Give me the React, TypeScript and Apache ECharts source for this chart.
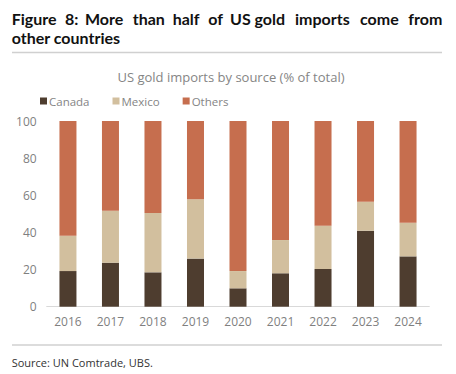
import React, { useEffect, useRef } from "react";
import * as echarts from "echarts";

const years = ["2016", "2017", "2018", "2019", "2020", "2021", "2022", "2023", "2024"];
const canada = [19.2, 23.7, 18.5, 25.9, 9.9, 18.0, 20.3, 40.9, 27.1];
const mexico = [19.0, 28.0, 32.0, 31.9, 9.3, 17.9, 23.3, 15.6, 18.1];
const others = [61.8, 48.3, 49.5, 42.2, 80.8, 64.1, 56.4, 43.5, 54.8];

const titleLine1 = ["Figure", "8:", "More", "than", "half", "of", "US gold", "imports", "come", "from"];
const titleLine1X = [11.7, 65, 85, 132.7, 172.7, 208.3, 230, 295, 360, 408.3];
const titleLine2 = "other countries";
const chartTitle = "US gold imports by source (% of total)";
const sourceText = "Source: UN Comtrade, UBS.";

const COLORS = { canada: "#4e3d2f", mexico: "#d2bf9e", others: "#c66e4e" };
const FONT = "'Open Sans', 'Noto Sans', sans-serif";

export default function App() {
  const ref = useRef<HTMLDivElement>(null);
  useEffect(() => {
    if (!ref.current) return;
    const chart = echarts.init(ref.current, null, { renderer: "svg" });
    const graphics: any[] = [];
    titleLine1.forEach((w, i) => {
      graphics.push({
        type: "text",
        x: titleLine1X[i],
        y: 18.5,
        style: {
          text: w,
          font: "bold 16px Lato, 'Open Sans', sans-serif",
          fill: "#111",
          textAlign: "left",
          textVerticalAlign: "middle",
        },
      });
    });
    graphics.push({
      type: "text",
      x: 11.7,
      y: 37.8,
      style: {
        text: titleLine2,
        font: "bold 16px Lato, 'Open Sans', sans-serif",
        fill: "#111",
        textAlign: "left",
        textVerticalAlign: "middle",
      },
    });
    graphics.push({
      type: "line",
      shape: { x1: 12, y1: 52.5, x2: 442, y2: 52.5 },
      style: { stroke: "#d0d0d0", lineWidth: 1.5 },
    });
    graphics.push({
      type: "line",
      shape: { x1: 12, y1: 345, x2: 442, y2: 345 },
      style: { stroke: "#d0d0d0", lineWidth: 1.5 },
    });
    graphics.push({
      type: "text",
      x: 11.7,
      y: 362,
      style: {
        text: sourceText,
        font: `11px ${FONT}`,
        fill: "#333",
        textAlign: "left",
        textVerticalAlign: "middle",
      },
    });

    chart.setOption({
      animation: false,
      backgroundColor: "#fff",
      title: {
        text: chartTitle,
        left: 226,
        top: 65,
        textAlign: "center",
        textStyle: { fontFamily: FONT, fontSize: 13, fontWeight: "normal", color: "#858585" },
      },
      legend: {
        left: 35,
        top: 90,
        icon: "rect",
        itemWidth: 7,
        itemHeight: 7,
        itemGap: 23,
        textStyle: { fontFamily: FONT, fontSize: 11.5, color: "#858585", padding: [0, 0, 0, -3] },
        data: ["Canada", "Mexico", "Others"],
      },
      grid: { left: 46.7, right: 26.7, top: 121, bottom: 67.3, containLabel: false },
      xAxis: {
        type: "category",
        data: years,
        axisLine: { lineStyle: { color: "#d9d9d9", width: 1 } },
        axisTick: { show: false },
        axisLabel: { fontFamily: FONT, fontSize: 12, color: "#7f7f7f", margin: 9 },
      },
      yAxis: {
        type: "value",
        min: 0,
        max: 100,
        interval: 20,
        axisLine: { show: false },
        axisTick: { show: false },
        splitLine: { show: false },
        axisLabel: { fontFamily: FONT, fontSize: 12, color: "#7f7f7f", margin: 10 },
      },
      series: [
        { name: "Canada", type: "bar", stack: "t", data: canada, barWidth: "40%", itemStyle: { color: COLORS.canada } },
        { name: "Mexico", type: "bar", stack: "t", data: mexico, barWidth: "40%", itemStyle: { color: COLORS.mexico } },
        { name: "Others", type: "bar", stack: "t", data: others, barWidth: "40%", itemStyle: { color: COLORS.others } },
      ],
      graphic: graphics,
    });
    return () => chart.dispose();
  }, []);
  return (
    <div
      ref={ref}
      style={{ position: "fixed", left: 0, top: 0, width: 456, height: 374, background: "#fff" }}
    />
  );
}
